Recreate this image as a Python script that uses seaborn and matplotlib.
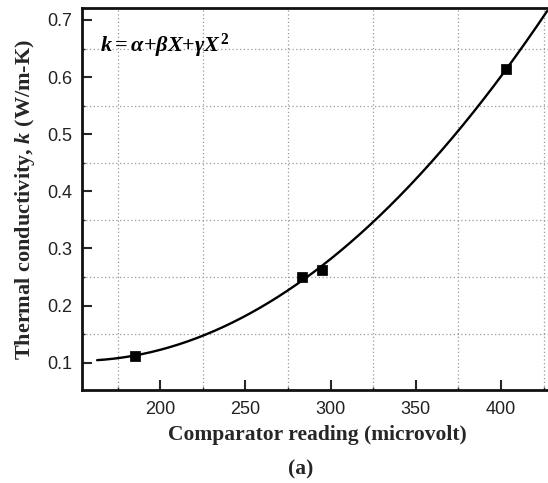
import numpy as np
import pandas as pd
import seaborn as sns
import matplotlib.pyplot as plt
from matplotlib.ticker import AutoMinorLocator

# measured calibration points
reading = [185, 283, 295, 403]
conductivity = [0.112, 0.250, 0.263, 0.614]

# range of the fitted curve
fit_start = 163
fit_end = 427

x_ticks = [200, 250, 300, 350, 400]
y_ticks = [0.1, 0.2, 0.3, 0.4, 0.5, 0.6, 0.7]

sns.set_style('ticks')
plt.rcParams['font.family'] = ['Liberation Sans', 'DejaVu Sans']
plt.rcParams['mathtext.fontset'] = 'custom'
plt.rcParams['mathtext.rm'] = 'Liberation Serif:bold'
plt.rcParams['mathtext.it'] = 'Liberation Serif:italic:bold'
plt.rcParams['mathtext.bf'] = 'Liberation Serif:bold'

# quadratic fit k = a + bX + cX^2
coef = np.polyfit(reading, conductivity, 2)
xs = np.linspace(fit_start, fit_end, 300)
curve = pd.DataFrame({'x': xs, 'k': np.polyval(coef, xs)})
points = pd.DataFrame({'x': reading, 'k': conductivity})

fig = plt.figure(figsize=(5.48, 4.83), dpi=100)
ax = fig.add_axes([0.1496, 0.1925, 0.86, 0.791])

sns.lineplot(data=curve, x='x', y='k', ax=ax, color='black', linewidth=1.7)
sns.scatterplot(data=points, x='x', y='k', ax=ax, marker='s', s=44,
                color='black', edgecolor='black', zorder=5)

ax.set_xlim(154.1, 430.6)
ax.set_ylim(0.052, 0.721)
ax.set_xticks(x_ticks)
ax.set_yticks(y_ticks)
ax.set_xticklabels([str(v) for v in x_ticks])
ax.set_yticklabels([f'{v:.1f}' for v in y_ticks])
ax.xaxis.set_minor_locator(AutoMinorLocator(2))
ax.yaxis.set_minor_locator(AutoMinorLocator(2))

ax.tick_params(which='major', direction='in', length=7, width=1.5,
               labelsize=13, labelcolor='#222222', top=False, right=False)
ax.tick_params(axis='x', which='major', pad=8)
ax.tick_params(axis='y', which='major', pad=7)
ax.tick_params(which='minor', direction='in', length=2, width=1,
               top=False, right=False)
ax.grid(which='minor', linestyle=(0, (1, 2)), color='#999999', linewidth=0.9)
ax.grid(which='major', visible=False)

for side in ['left', 'bottom', 'top', 'right']:
    ax.spines[side].set_linewidth(2)
    ax.spines[side].set_color('#111111')

ax.set_xlabel('Comparator reading (microvolt)', family='Liberation Serif',
              fontweight='bold', fontsize=15.5, labelpad=5)
ax.set_ylabel(r'Thermal conductivity, $k$ (W/m-K)', family='Liberation Serif',
              fontweight='bold', fontsize=16, labelpad=7)

ax.text(0.038, 0.885, r'$k = \alpha{+}\beta X{+}\gamma X^{2}$', transform=ax.transAxes,
        fontsize=16, color='black', va='baseline')

fig.text(0.548, 0.028, '(a)', family='Liberation Serif', fontweight='bold',
         fontsize=15.5, ha='center', va='center')

fig.savefig('out.png', dpi=100)
plt.close(fig)
